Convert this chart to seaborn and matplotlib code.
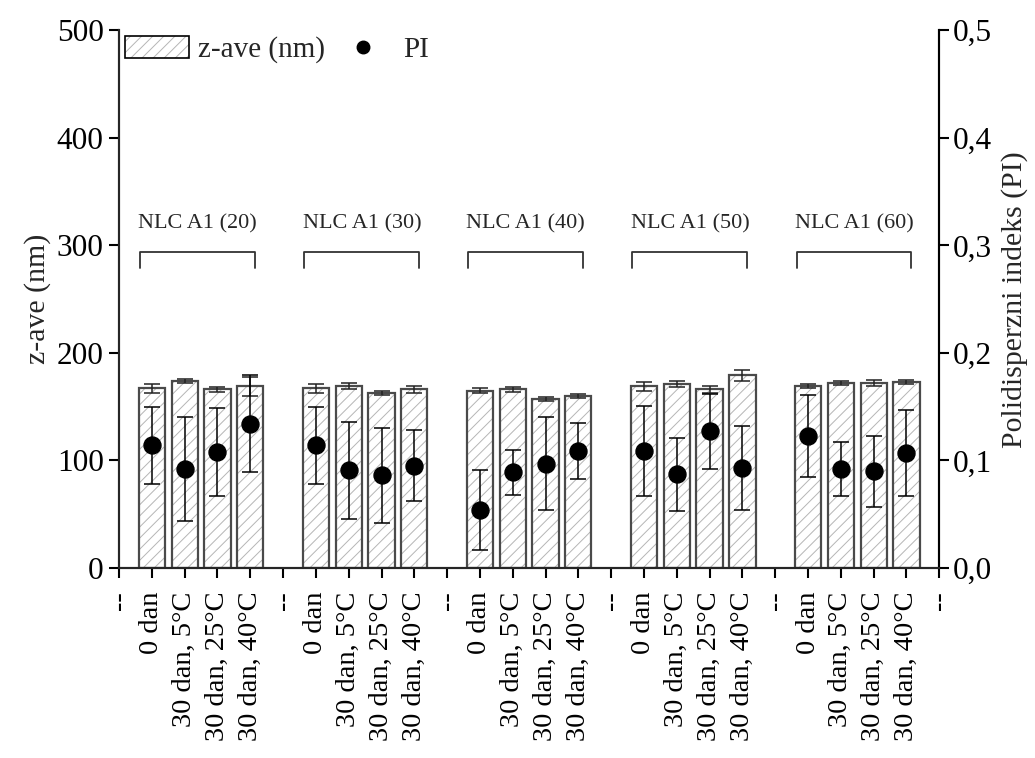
import numpy as np
import pandas as pd
import matplotlib
matplotlib.use("Agg")
import matplotlib.pyplot as plt
import seaborn as sns
from matplotlib.patches import Patch, Rectangle
from matplotlib.lines import Line2D
from matplotlib.ticker import FuncFormatter

# ---------------- data ----------------
groups = ["NLC A1 (20)", "NLC A1 (30)", "NLC A1 (40)", "NLC A1 (50)", "NLC A1 (60)"]
conditions = ["0 dan", "30 dan, 5°C", "30 dan, 25°C", "30 dan, 40°C"]
separator_label = "--"

zave = [167, 174, 166, 169,
        167, 169, 163, 166,
        165, 166, 157, 160,
        169, 171, 166, 179,
        169, 172, 172, 173]
zave_err = [4, 2, 2, 9,
            4, 3, 2, 3,
            2, 2, 2, 2,
            4, 3, 3, 5,
            2, 2, 3, 2]
pi = [0.114, 0.092, 0.108, 0.134,
      0.114, 0.091, 0.086, 0.095,
      0.054, 0.089, 0.097, 0.109,
      0.109, 0.087, 0.127, 0.093,
      0.123, 0.092, 0.090, 0.107]
pi_err = [0.036, 0.048, 0.041, 0.045,
          0.036, 0.045, 0.044, 0.033,
          0.037, 0.021, 0.043, 0.026,
          0.042, 0.034, 0.035, 0.039,
          0.038, 0.025, 0.033, 0.040]

# ---------------- layout ----------------
sns.set_theme(style="ticks")
plt.rcParams["font.family"] = ["Liberation Serif", "DejaVu Serif"]
plt.rcParams["hatch.linewidth"] = 0.7
plt.rcParams["axes.linewidth"] = 1.5

nc = len(conditions)
slot = nc + 1
rows = []
for gi, g in enumerate(groups):
    for ci, c in enumerate(conditions):
        k = gi * nc + ci
        rows.append(dict(group=g, cond=c, pos=gi * slot + ci + 1,
                         z=zave[k], zerr=zave_err[k], pi=pi[k], pierr=pi_err[k]))
df = pd.DataFrame(rows)

fig = plt.figure(figsize=(10.35, 7.58), dpi=100)
ax = fig.add_axes([0.115, 0.2507, 0.7925, 0.7093])
ax2 = ax.twinx()

hatch_col = "#b5b5b5"
edge_col = "#4a4a4a"
sns.barplot(data=df, x="pos", y="z", native_scale=True, width=0.8,
            color="white", errorbar=None, ax=ax)
for p in list(ax.patches):
    p.set_hatch("///")
    p.set_edgecolor(hatch_col)
    p.set_linewidth(0)
    ax.add_patch(Rectangle(p.get_xy(), p.get_width(), p.get_height(),
                           fill=False, edgecolor=edge_col, linewidth=1.6, zorder=3))
ax.errorbar(df["pos"], df["z"], yerr=df["zerr"], fmt="none", ecolor="#222222",
            elinewidth=1.1, capsize=6, capthick=1.1, zorder=4)

sns.scatterplot(data=df, x="pos", y="pi", ax=ax2, color="black", s=150,
                edgecolor="black", zorder=6, legend=False)
ax2.errorbar(df["pos"], df["pi"], yerr=df["pierr"], fmt="none", ecolor="black",
             elinewidth=1.1, capsize=6, capthick=1.1, zorder=5)

# group brackets and labels
for gi, g in enumerate(groups):
    sub = df[df["group"] == g]
    left = sub["pos"].min() - 0.35
    right = sub["pos"].max() + 0.15
    ax.plot([left, left, right, right], [279, 294, 294, 279], color="#333333",
            lw=1.3, solid_joinstyle="round", zorder=5)
    ax.text((left + right) / 2, 320, g, ha="center", va="center", fontsize=16)

# axes
n_slots = len(groups) * slot
ax.set_xlim(0, n_slots)
ax.set_ylim(0, 500)
ax2.set_ylim(0, 0.5)
ticks = list(range(n_slots + 1))
labels = [separator_label if t % slot == 0 else conditions[t % slot - 1] for t in ticks]
ax.set_xticks(ticks)
ax.set_xticklabels(labels, rotation=90, fontsize=20.5)
ax.set_xlabel("")
ax.set_yticks([0, 100, 200, 300, 400, 500])
ax.tick_params(axis="y", labelsize=22.5, length=7, width=1.5, direction="out", pad=4)
ax.tick_params(axis="x", length=7, width=1.5, direction="out", pad=10)
ax2.set_yticks([0, 0.1, 0.2, 0.3, 0.4, 0.5])
ax2.yaxis.set_major_formatter(FuncFormatter(lambda v, _: f"{v:.1f}".replace(".", ",")))
ax2.tick_params(axis="y", labelsize=22.5, length=7, width=1.5, direction="out", pad=3)
ax.set_ylabel("z-ave (nm)", fontsize=21.5, labelpad=4)
ax2.set_ylabel("Polidisperzni indeks (PI)", fontsize=21.5, labelpad=6)
ax.spines["top"].set_visible(False)
ax2.spines["top"].set_visible(False)
for s in ["left", "bottom"]:
    ax.spines[s].set_color("black")
ax2.spines["right"].set_color("black")
ax.tick_params(colors="black")
ax2.tick_params(colors="black")

# legend
h_bar = (Patch(facecolor="white", edgecolor=hatch_col, hatch="///", linewidth=0),
         Patch(facecolor="none", edgecolor="black", linewidth=1.2))
h_pi = Line2D([], [], marker="o", color="black", linestyle="none", markersize=9)
leg = ax.legend([h_bar, h_pi], ["z-ave (nm)", "PI"], loc="upper left",
                bbox_to_anchor=(0.0, 1.0), ncol=2, frameon=False, fontsize=21,
                handlelength=2.2, handleheight=0.75, handletextpad=0.3,
                columnspacing=0.2, borderaxespad=0.1, borderpad=0.1)

fig.savefig("out.png", dpi=100)
